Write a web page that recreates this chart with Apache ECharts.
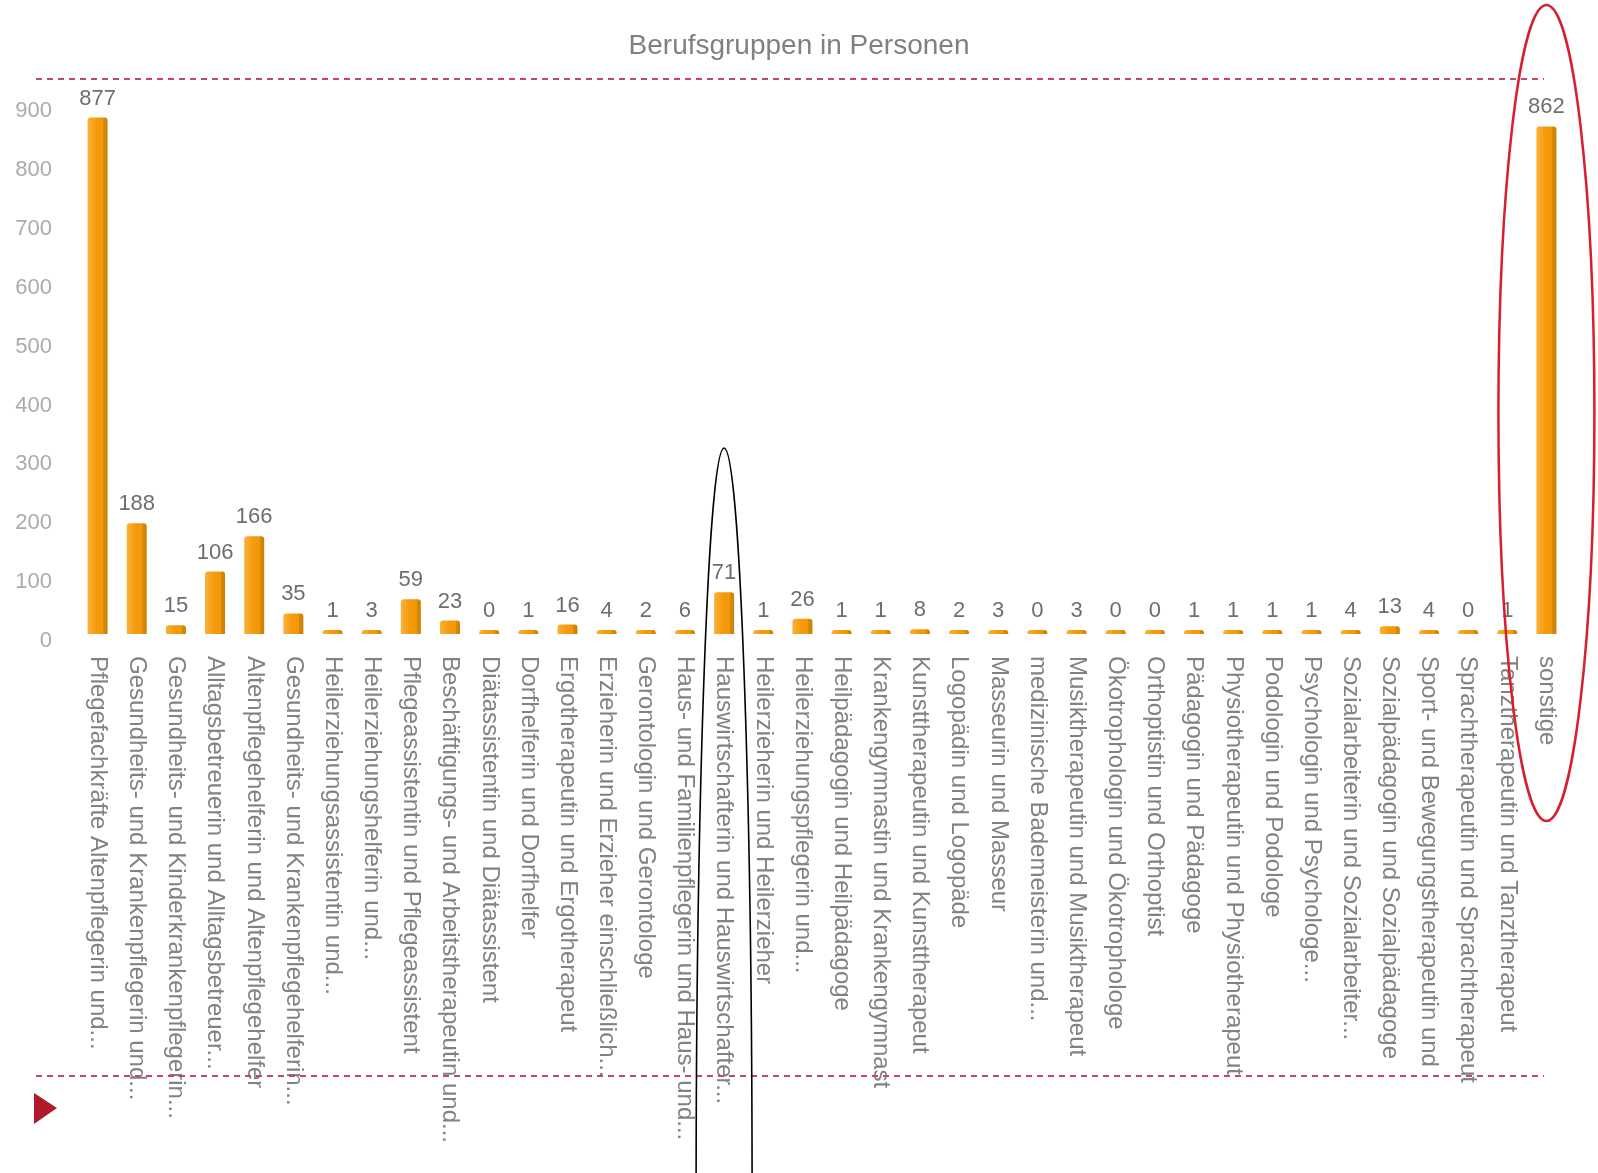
<!DOCTYPE html>
<html>
<head>
<meta charset="utf-8">
<script src="https://cdn.jsdelivr.net/npm/echarts@6/dist/echarts.min.js"></script>
<style>
html,body{margin:0;padding:0;background:#fff;}
#main{width:1598px;height:1173px;}
</style>
</head>
<body>
<div id="main"></div>
<script>
const title = 'Berufsgruppen in Personen';
const categories = [
  'Pflegefachkräfte Altenpflegerin und...',
  'Gesundheits- und Krankenpflegerin und...',
  'Gesundheits- und Kinderkrankenpflegerin...',
  'Alltagsbetreuerin und Alltagsbetreuer...',
  'Altenpflegehelferin und Altenpflegehelfer',
  'Gesundheits- und Krankenpflegehelferin...',
  'Heilerziehungsassistentin und...',
  'Heilerziehungshelferin und...',
  'Pflegeassistentin und Pflegeassistent',
  'Beschäftigungs- und Arbeitstherapeutin und...',
  'Diätassistentin und Diätassistent',
  'Dorfhelferin und Dorfhelfer',
  'Ergotherapeutin und Ergotherapeut',
  'Erzieherin und Erzieher einschließlich...',
  'Gerontologin und Gerontologe',
  'Haus- und Familienpflegerin und Haus- und...',
  'Hauswirtschafterin und Hauswirtschafter...',
  'Heilerzieherin und Heilerzieher',
  'Heilerziehungspflegerin und...',
  'Heilpädagogin und Heilpädagoge',
  'Krankengymnastin und Krankengymnast',
  'Kunsttherapeutin und Kunsttherapeut',
  'Logopädin und Logopäde',
  'Masseurin und Masseur',
  'medizinische Bademeisterin und...',
  'Musiktherapeutin und Musiktherapeut',
  'Ökotrophologin und Ökotrophologe',
  'Orthoptistin und Orthoptist',
  'Pädagogin und Pädagoge',
  'Physiotherapeutin und Physiotherapeut',
  'Podologin und Podologe',
  'Psychologin und Psychologe...',
  'Sozialarbeiterin und Sozialarbeiter...',
  'Sozialpädagogin und Sozialpädagoge',
  'Sport- und Bewegungstherapeutin und',
  'Sprachtherapeutin und Sprachtherapeut',
  'Tanztherapeutin und Tanztherapeut',
  'sonstige'
];
const values = [877, 188, 15, 106, 166, 35, 1, 3, 59, 23, 0, 1, 16, 4, 2, 6, 71, 1, 26, 1, 1, 8, 2, 3, 0, 3, 0, 0, 1, 1, 1, 1, 4, 13, 4, 0, 1, 862];
const yTicks = [0, 100, 200, 300, 400, 500, 600, 700, 800, 900];
const highlightBlack = 'Hauswirtschafterin und Hauswirtschafter...';
const highlightRed = 'sonstige';

const chart = echarts.init(document.getElementById('main'));
const font = '"Liberation Sans", Arial, sans-serif';
chart.setOption({
  animation: false,
  backgroundColor: '#ffffff',
  title: {
    text: title, left: 'center', top: 27,
    textStyle: {color: '#808080', fontSize: 28, fontWeight: 'normal', fontFamily: font}
  },
  grid: {left: 78, right: 32, top: 104, bottom: 539, containLabel: false},
  xAxis: {
    type: 'category', data: categories,
    axisLine: {show: false}, axisTick: {show: false},
    axisLabel: {interval: 0, rotate: -90, color: '#828282', fontSize: 24, fontFamily: font, margin: 22}
  },
  yAxis: {
    type: 'value', min: yTicks[0], max: yTicks[yTicks.length - 1], interval: 100,
    splitLine: {show: false}, axisLine: {show: false}, axisTick: {show: false},
    axisLabel: {color: '#ababab', fontSize: 22, fontFamily: font, margin: 26, verticalAlign: 'top', lineHeight: 14}
  },
  series: [{
    type: 'bar', data: values, barWidth: 20, barMinHeight: 4,
    itemStyle: {
      color: new echarts.graphic.LinearGradient(0, 0, 1, 0, [
        {offset: 0, color: '#F9B23A'},
        {offset: 0.45, color: '#F59A0C'},
        {offset: 0.78, color: '#F29708'},
        {offset: 0.8, color: '#D88A06'},
        {offset: 1, color: '#C98006'}
      ]),
      borderRadius: [3, 3, 0, 0]
    },
    label: {show: true, position: 'top', distance: 8, color: '#6e6e6e', fontSize: 22, fontFamily: font}
  }]
});

function drawDecor() {
  const iB = categories.indexOf(highlightBlack);
  const iR = categories.indexOf(highlightRed);
  const pB = chart.convertToPixel({seriesIndex: 0}, [iB, 0]);
  const pR = chart.convertToPixel({seriesIndex: 0}, [iR, 0]);
  const dash = {stroke: '#C2486A', lineWidth: 2, lineDash: [6, 5]};
  chart.setOption({
    graphic: [
      {type: 'line', shape: {x1: 36, y1: 79, x2: 1544, y2: 79}, style: dash, z: 10},
      {type: 'line', shape: {x1: 36, y1: 1076, x2: 1544, y2: 1076}, style: dash, z: 10},
      {type: 'polygon', shape: {points: [[34, 1093], [57, 1108], [34, 1124]]}, style: {fill: '#B01A2A'}, z: 10},
      {type: 'ellipse', shape: {cx: pB[0], cy: 1200, rx: 28, ry: 752}, style: {fill: 'none', stroke: '#000', lineWidth: 1.6}, z: 20},
      {type: 'ellipse', shape: {cx: pR[0], cy: 413, rx: 48, ry: 408}, style: {fill: 'none', stroke: '#D42030', lineWidth: 2.5}, z: 20}
    ]
  });
}
drawDecor();
</script>
</body>
</html>
